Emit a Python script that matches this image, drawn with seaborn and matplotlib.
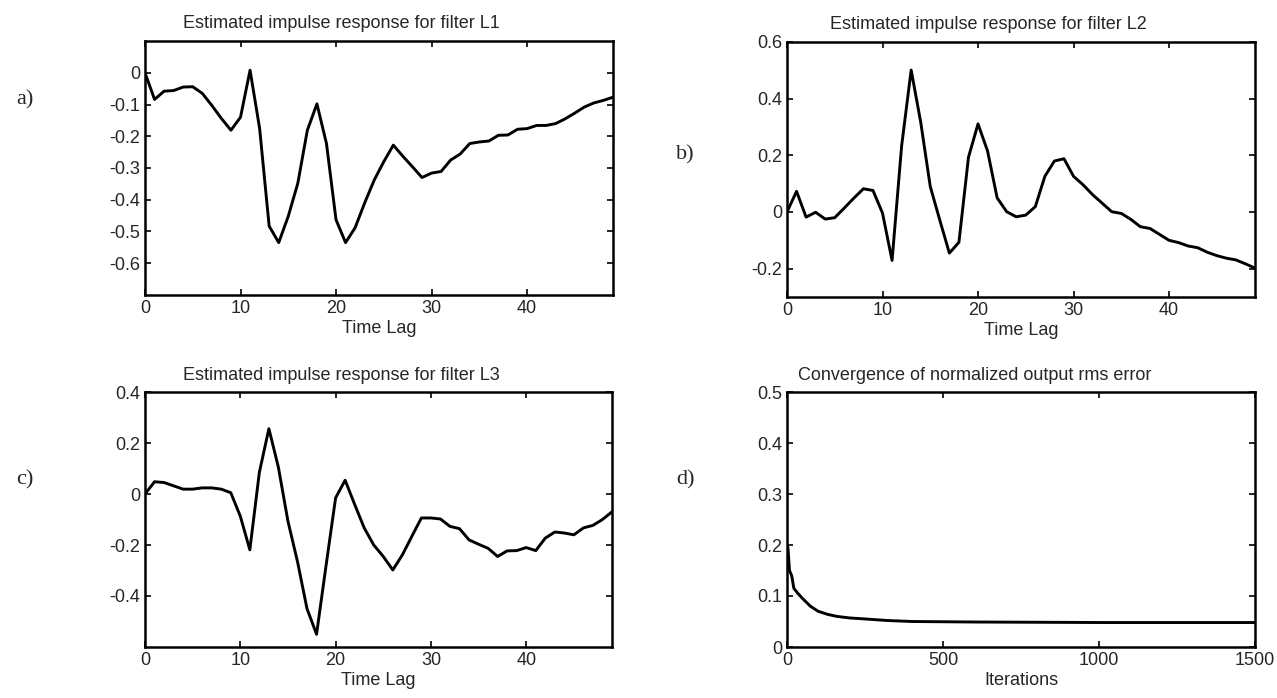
import numpy as np
import pandas as pd
import matplotlib
matplotlib.use("Agg")
import matplotlib.pyplot as plt
import seaborn as sns

sns.set_theme(style="ticks")
plt.rcParams.update({
    'font.family': ['Liberation Sans', 'DejaVu Sans'],
    'font.size': 13,
    'axes.linewidth': 1.8,
    'axes.edgecolor': 'black',
    'xtick.direction': 'in',
    'ytick.direction': 'in',
    'xtick.top': True,
    'ytick.right': True,
    'xtick.major.size': 4,
    'ytick.major.size': 4,
    'xtick.major.width': 1.4,
    'ytick.major.width': 1.4,
    'xtick.labelsize': 13,
    'ytick.labelsize': 13,
    'axes.labelsize': 13,
    'axes.titlesize': 13,
})

# time lags of the estimated impulse responses
lags = list(range(50))

l1 = [0.0, -0.084, -0.058, -0.056, -0.045, -0.044, -0.065, -0.103, -0.144, -0.181,
      -0.14, 0.008, -0.175, -0.483, -0.535, -0.452, -0.348, -0.181, -0.098, -0.223,
      -0.463, -0.535, -0.488, -0.41, -0.338, -0.28, -0.228, -0.263, -0.296, -0.33,
      -0.316, -0.311, -0.275, -0.256, -0.223, -0.218, -0.215, -0.197, -0.196, -0.178,
      -0.176, -0.166, -0.166, -0.16, -0.145, -0.127, -0.108, -0.095, -0.087, -0.077]

l2 = [0.0, 0.073, -0.018, -0.001, -0.025, -0.02, 0.014, 0.049, 0.082, 0.076,
      -0.004, -0.171, 0.233, 0.501, 0.317, 0.09, -0.029, -0.145, -0.107, 0.193,
      0.311, 0.215, 0.05, 0.001, -0.017, -0.011, 0.019, 0.126, 0.18, 0.188,
      0.126, 0.096, 0.061, 0.031, 0.001, -0.005, -0.026, -0.052, -0.058, -0.079,
      -0.1, -0.108, -0.12, -0.126, -0.142, -0.154, -0.163, -0.169, -0.183, -0.198]

l3 = [0.0, 0.048, 0.045, 0.032, 0.019, 0.019, 0.024, 0.024, 0.019, 0.005,
      -0.087, -0.219, 0.085, 0.256, 0.104, -0.107, -0.265, -0.45, -0.55, -0.28,
      -0.015, 0.054, -0.041, -0.133, -0.2, -0.245, -0.298, -0.239, -0.166, -0.094,
      -0.094, -0.098, -0.127, -0.136, -0.18, -0.197, -0.213, -0.245, -0.223, -0.222,
      -0.21, -0.222, -0.173, -0.149, -0.153, -0.16, -0.133, -0.123, -0.1, -0.07]

# convergence of rms error
iters = [0, 3, 8, 15, 22, 35, 50, 75, 100, 130, 160, 200, 250, 320, 400, 600, 1000, 1500]
rms = [0.2, 0.195, 0.15, 0.14, 0.115, 0.105, 0.095, 0.08, 0.07, 0.064, 0.06, 0.057,
       0.055, 0.052, 0.05, 0.049, 0.048, 0.048]

W, H = 1277, 698
fig = plt.figure(figsize=(W / 100, H / 100), dpi=100)
fig.patch.set_facecolor('white')


def box(left, top, right, bottom):
    return [left / W, 1 - bottom / H, (right - left) / W, (bottom - top) / H]


panels = [
    dict(rect=box(145, 41, 613, 295), x=lags, y=l1, xlim=(0, 49), ylim=(-0.7, 0.1),
         yticks=[0, -0.1, -0.2, -0.3, -0.4, -0.5, -0.6], xticks=[0, 10, 20, 30, 40],
         title='Estimated impulse response for filter L1', tx=0.42, xlabel='Time Lag'),
    dict(rect=box(787, 42, 1255, 297), x=lags, y=l2, xlim=(0, 49), ylim=(-0.3, 0.6),
         yticks=[-0.2, 0, 0.2, 0.4, 0.6], xticks=[0, 10, 20, 30, 40],
         title='Estimated impulse response for filter L2', tx=0.43, xlabel='Time Lag'),
    dict(rect=box(145, 392, 612, 647), x=lags, y=l3, xlim=(0, 49), ylim=(-0.6, 0.4),
         yticks=[-0.4, -0.2, 0, 0.2, 0.4], xticks=[0, 10, 20, 30, 40],
         title='Estimated impulse response for filter L3', tx=0.42, xlabel='Time Lag'),
    dict(rect=box(787, 392, 1255, 647), x=iters, y=rms, xlim=(0, 1500), ylim=(0, 0.5),
         yticks=[0, 0.1, 0.2, 0.3, 0.4, 0.5], xticks=[0, 500, 1000, 1500],
         title='Convergence of normalized output rms error', tx=0.40, xlabel='Iterations'),
]

for p in panels:
    ax = fig.add_axes(p['rect'])
    df = pd.DataFrame({'x': p['x'], 'y': p['y']})
    sns.lineplot(data=df, x='x', y='y', ax=ax, color='black', linewidth=2.1)
    ax.set_xlim(*p['xlim'])
    ax.set_ylim(*p['ylim'])
    ax.set_xticks(p['xticks'])
    ax.set_yticks(p['yticks'])
    ax.set_yticklabels([('%g' % v) for v in p['yticks']])
    ax.set_title(p['title'], x=p['tx'], pad=9)
    ax.set_xlabel(p['xlabel'], labelpad=2)
    ax.set_ylabel('')
    for s in ax.spines.values():
        s.set_visible(True)

serif = ['Liberation Serif', 'DejaVu Serif']
fig.text(25 / W, 1 - 100 / H, 'a)', family=serif, fontsize=16, ha='center', va='center')
fig.text(685 / W, 1 - 155 / H, 'b)', family=serif, fontsize=16, ha='center', va='center')
fig.text(25 / W, 1 - 480 / H, 'c)', family=serif, fontsize=16, ha='center', va='center')
fig.text(685 / W, 1 - 480 / H, 'd)', family=serif, fontsize=16, ha='center', va='center')

fig.savefig('out.png', dpi=100)
